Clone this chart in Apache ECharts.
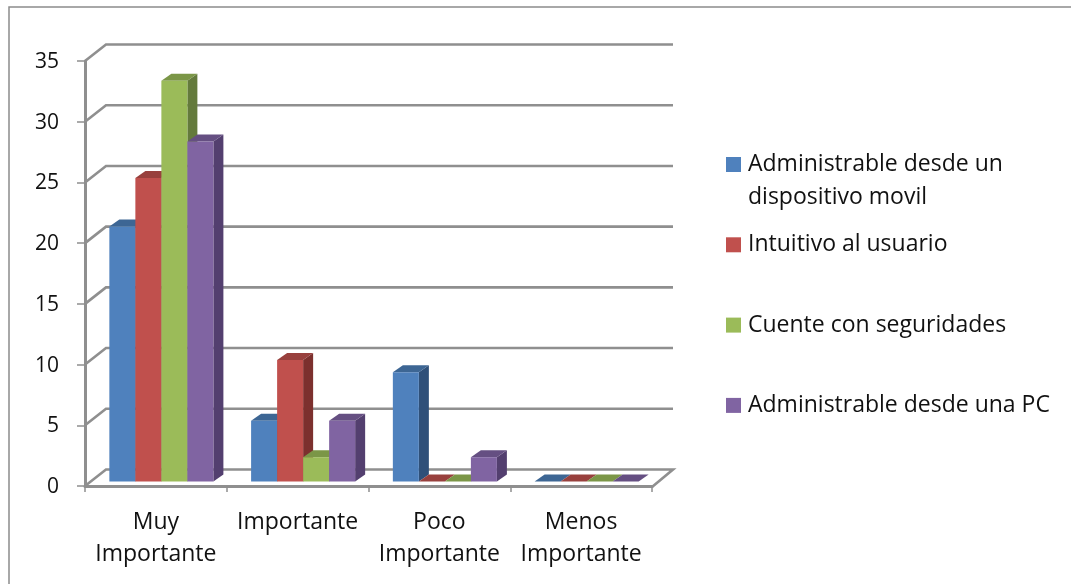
<!DOCTYPE html>
<html>
<head>
<meta charset="utf-8">
<style>html,body{margin:0;padding:0;background:#fff;overflow:hidden}#c{width:1071px;height:584px}</style>
<script src="https://cdn.jsdelivr.net/npm/echarts@6/dist/echarts.min.js"></script>
</head>
<body>
<div id="c"></div>
<script>
var categories = ['Muy\nImportante', 'Importante', 'Poco\nImportante', 'Menos\nImportante'];
var yTicks = [0, 5, 10, 15, 20, 25, 30, 35];
var seriesNames = ['Administrable desde un', 'Intuitivo al usuario', 'Cuente con seguridades', 'Administrable desde una PC'];
var firstNameSecondLine = 'dispositivo movil';
var movil = [21, 5, 9, 0];
var intuitivo = [25, 10, 0, 0];
var seguridades = [33, 2, 0, 0];
var pc = [28, 5, 2, 0];
var seriesValues = [movil, intuitivo, seguridades, pc];
var frontColors = ['#4f81bd', '#c0504d', '#9bbb59', '#8064a2'];
var topColors = ['#3d6694', '#98403d', '#7b9647', '#654f82'];
var sideColors = ['#2f5079', '#7c302e', '#647a3c', '#533f6f'];

var FONT = '"Open Sans"';
var FS = 23;
var FS_Y = 21;
var GRID_GRAY = '#8f8f8f';
var WALL_DX = 21, WALL_DY = 16.5;
var PLANE_DX = 5.5, PLANE_DY = 4.5;
var BAR_DX = 10, BAR_DY = 7;
var BAR_FRACTION = 0.1835;

function renderWall(params, api) {
  var cs = params.coordSys;
  var y = api.coord([0, api.value(1)])[1];
  var x0 = cs.x, x1 = cs.x + cs.width;
  var lineStyle = { stroke: GRID_GRAY, lineWidth: 2.6, fill: null };
  var pts = [[x0, y], [x0 + WALL_DX, y - WALL_DY], [x1 + WALL_DX, y - WALL_DY]];
  if (api.value(1) === 0) pts.push([x1, y + 1]);
  return { type: 'polyline', shape: { points: pts }, style: lineStyle };
}

function makeBarRenderer(idx) {
  return function (params, api) {
    var cat = api.value(0), val = api.value(1);
    var centre = api.coord([cat, 0]);
    var top = api.coord([cat, val]);
    var w = api.size([1, 0])[0] * BAR_FRACTION;
    var xl = centre[0] + PLANE_DX + (idx - 2) * w;
    var xr = xl + w;
    var yb = centre[1] - PLANE_DY;
    var yt = top[1] - PLANE_DY;
    return {
      type: 'group',
      children: [
        { type: 'polygon', shape: { points: [[xr, yb], [xr + BAR_DX, yb - BAR_DY], [xr + BAR_DX, yt - BAR_DY], [xr, yt]] },
          style: { fill: sideColors[idx] } },
        { type: 'polygon', shape: { points: [[xl, yt], [xl + BAR_DX, yt - BAR_DY], [xr + BAR_DX, yt - BAR_DY], [xr, yt]] },
          style: { fill: topColors[idx] } },
        { type: 'rect', shape: { x: xl, y: yt, width: w, height: yb - yt },
          style: { fill: frontColors[idx] } }
      ]
    };
  };
}

var series = [{
  type: 'custom', name: 'wall', coordinateSystem: 'cartesian2d', clip: false, z: 1, silent: true,
  renderItem: renderWall, encode: { x: 0, y: 1 },
  data: yTicks.map(function (t) { return [0, t]; })
}];
seriesNames.forEach(function (name, i) {
  series.push({
    type: 'custom', name: name, coordinateSystem: 'cartesian2d', clip: false, z: 3 + i,
    itemStyle: { color: frontColors[i] },
    renderItem: makeBarRenderer(i), encode: { x: 0, y: 1 },
    data: seriesValues[i].map(function (v, c) { return [c, v]; })
  });
});

var chart = echarts.init(document.getElementById('c'), null, { renderer: 'canvas' });
chart.setOption({
  animation: false,
  backgroundColor: '#ffffff',
  grid: { left: 85, top: 61, width: 567, height: 425, containLabel: false },
  xAxis: {
    type: 'category', data: categories, offset: 1,
    axisLine: { show: true, lineStyle: { color: GRID_GRAY, width: 3 } },
    axisTick: { show: true, length: 6, alignWithLabel: false, lineStyle: { color: GRID_GRAY, width: 1.5 } },
    axisLabel: { interval: 0, margin: 19.5, color: '#111', fontFamily: FONT, fontSize: FS, lineHeight: 32 },
    splitLine: { show: false }
  },
  yAxis: {
    type: 'value', min: 0, max: 35, interval: 5,
    axisLine: { show: true, lineStyle: { color: GRID_GRAY, width: 3 } },
    axisTick: { show: true, length: 8, lineStyle: { color: GRID_GRAY, width: 1.5 } },
    axisLabel: { margin: 26, color: '#111', fontFamily: FONT, fontSize: FS_Y, verticalAlign: 'top', lineHeight: 2 },
    splitLine: { show: false }
  },
  legend: {
    orient: 'vertical', left: 726, top: 153, padding: 0,
    itemWidth: 15, itemHeight: 15, itemGap: 57.3, icon: 'rect', selectedMode: false,
    data: seriesNames,
    textStyle: { color: '#111', fontFamily: FONT, fontSize: FS, lineHeight: 20, padding: [0, 0, 0, 2] }
  },
  graphic: [
    { type: 'polyline', silent: true, z: 0,
      shape: { points: [[9, 590], [9, 7], [1080, 7]] },
      style: { stroke: '#8c8c8c', lineWidth: 1.5, fill: null } },
    { type: 'text', silent: true, left: 748, top: 186,
      style: { text: firstNameSecondLine, fill: '#111', font: FS + 'px ' + FONT } }
  ],
  series: series
});
</script>
</body>
</html>
